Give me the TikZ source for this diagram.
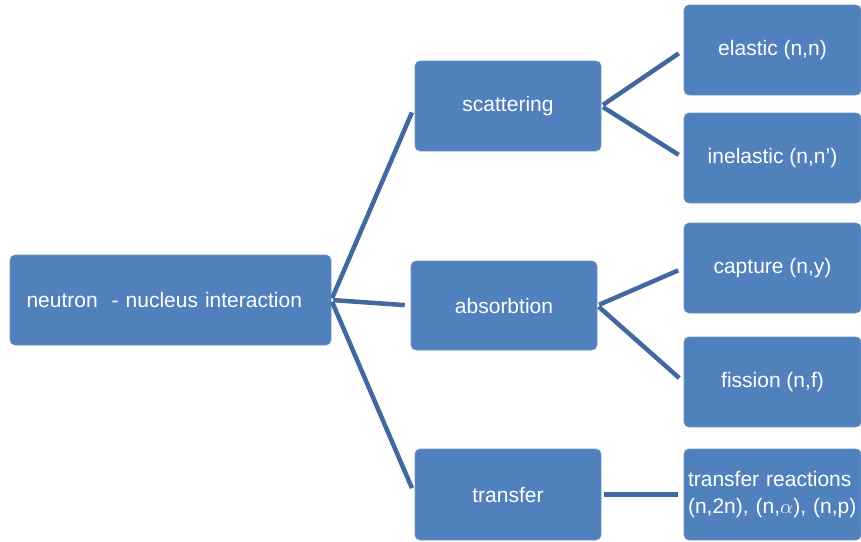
\documentclass[tikz,border=0pt]{standalone}
\usepackage{fontspec}
\setmainfont{Liberation Sans}
\definecolor{boxblue}{RGB}{80,129,189}
\definecolor{lineblue}{RGB}{66,104,160}
\begin{document}
\begin{tikzpicture}[x=1pt,y=-1pt,
    box/.style={fill=boxblue, draw=boxblue!85!white, line width=0.6pt, rounded corners=5pt,
                text=white, inner sep=0pt, font=\fontsize{21}{27}\selectfont},
    midbox/.style={box, minimum width=186pt, minimum height=90pt},
    leaf/.style={box, minimum width=177pt, minimum height=90pt},
    link/.style={lineblue, line width=4.5pt}]
    \useasboundingbox (0,0) rectangle (861,541);
    \node[box, minimum width=321pt, minimum height=90pt, text width=304pt, align=left] (root) at (170.5,300) {\hspace*{8pt}neutron\ \ - nucleus interaction};
    \node[midbox] (scat) at (508,106) {scattering};
    \node[midbox, minimum height=89pt] (absorb) at (504,305.5) {absorbtion};
    \node[midbox, minimum height=91pt] (transf) at (508,494.5) {transfer};
    \node[leaf] (elastic) at (772.5,50) {elastic (n,n)};
    \node[leaf] (inelastic) at (772.5,158) {inelastic (n,n')};
    \node[leaf] (capture) at (772.5,268) {capture (n,y)};
    \node[leaf] (fission) at (772.5,382) {fission (n,f)};
    \node[leaf, minimum height=91pt, text width=169pt, align=left] (treact) at (772.5,494.5)
        {transfer reactions\\(n,2n), (n,$\alpha$), (n,p)};
    % root branches
    \draw[link, shorten <=2pt, shorten >=7pt] (root.east) -- (scat.west);
    \draw[link, shorten <=2pt, shorten >=6pt] (root.east) -- (absorb.west);
    \draw[link, shorten <=2pt, shorten >=7pt] (root.east) -- (transf.west);
    % second level
    \draw[link, shorten <=2pt, shorten >=6pt] (scat.east) -- (elastic.west);
    \draw[link, shorten <=2pt, shorten >=6pt] (scat.east) -- (inelastic.west);
    \draw[link, shorten <=2pt, shorten >=6pt] (absorb.east) -- (capture.west);
    \draw[link, shorten <=2pt, shorten >=6pt] (absorb.east) -- (fission.west);
    \draw[link, shorten <=3pt, shorten >=6pt] (transf.east) -- (treact.west);
\end{tikzpicture}
\end{document}
